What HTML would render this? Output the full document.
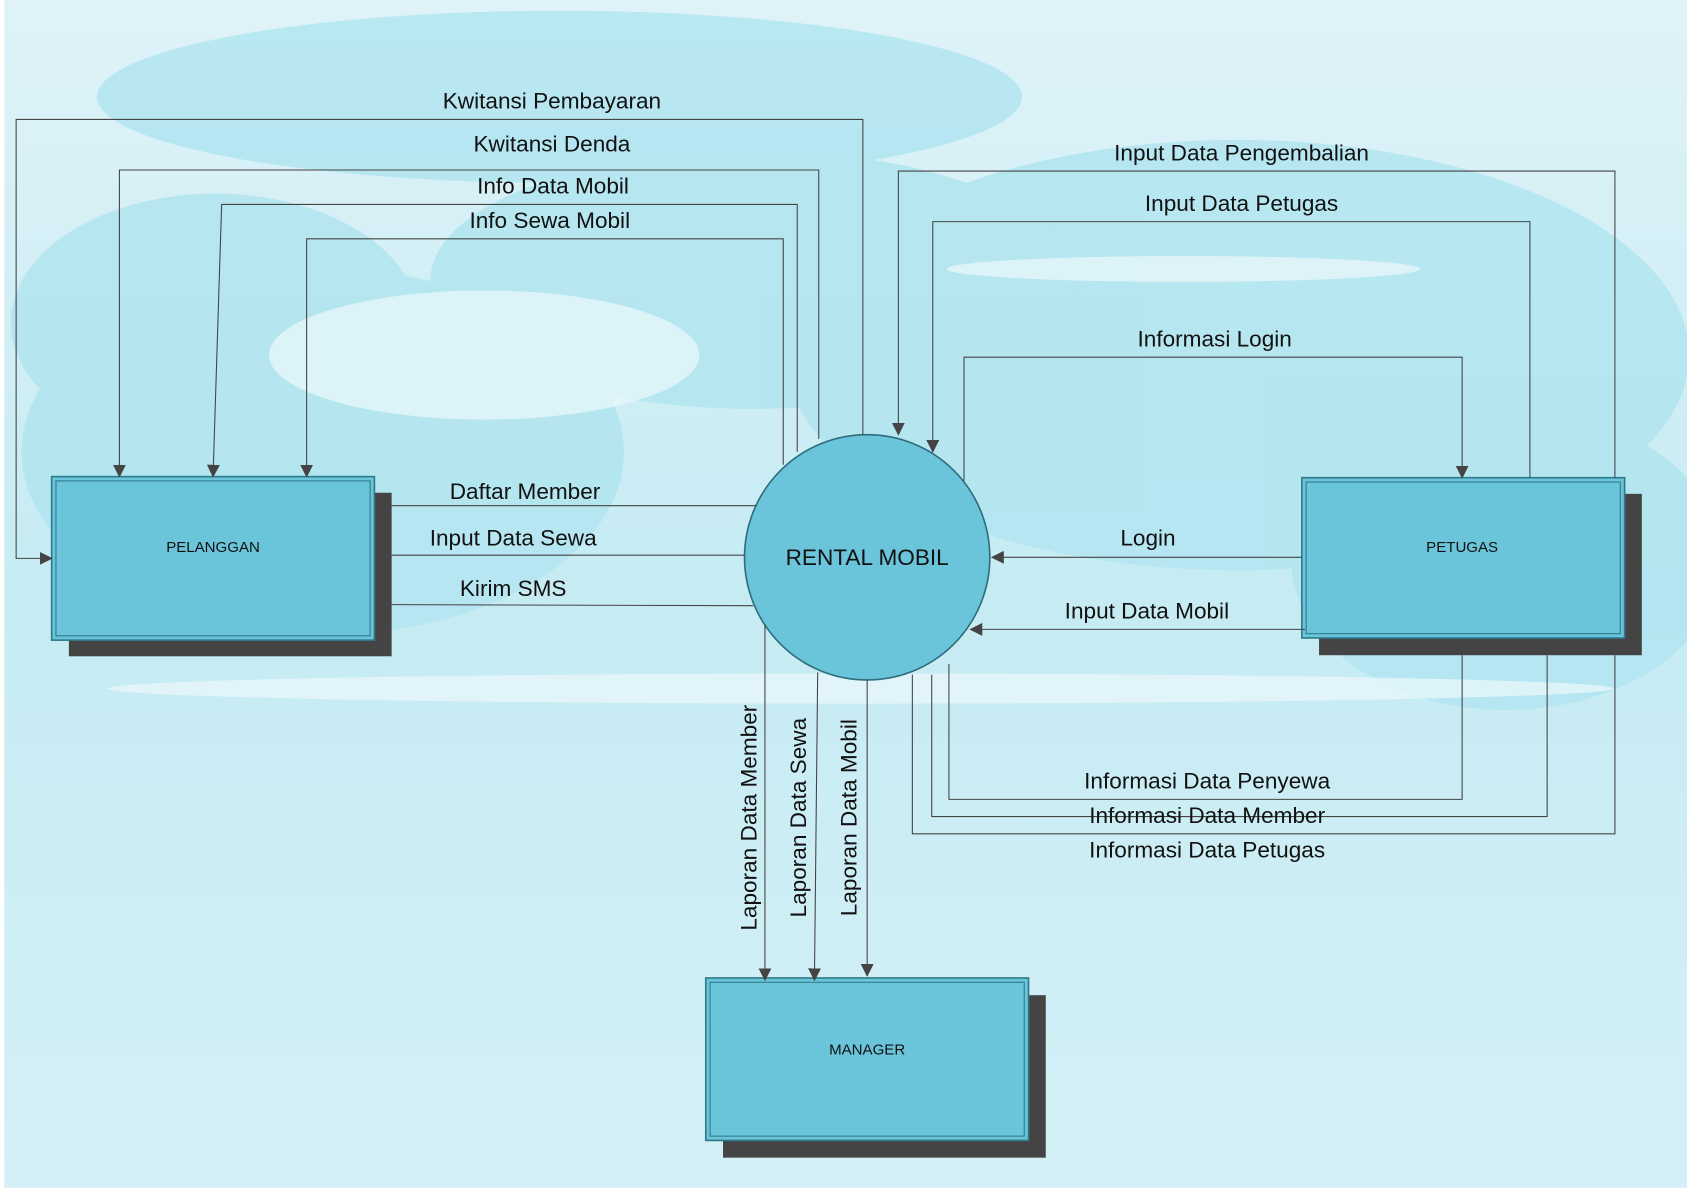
<!DOCTYPE html>
<html><head><meta charset="utf-8"><style>html,body{margin:0;padding:0;background:#fff}svg{display:block}</style></head>
<body>
<svg width="1687" height="1191" viewBox="0 0 1568 1107" preserveAspectRatio="none" xmlns="http://www.w3.org/2000/svg" font-family="Liberation Sans, sans-serif">
<defs>
<linearGradient id="bg" x1="0" y1="0" x2="0" y2="1">
<stop offset="0" stop-color="#dff3f8"/><stop offset="0.5" stop-color="#c6ebf3"/><stop offset="1" stop-color="#d4f0f6"/></linearGradient>
<marker id="a" markerWidth="12" markerHeight="12" refX="11" refY="6" orient="auto" markerUnits="userSpaceOnUse"><path d="M0,0 L12,6 L0,12 z" fill="#444"/></marker>
</defs>
<rect x="0" y="0" width="1568" height="1107" fill="#fff"/>
<rect x="4" y="0" width="1564" height="1104" fill="url(#bg)"/>
<g fill="#b1e5f0" opacity="0.85">
<ellipse cx="520" cy="90" rx="430" ry="80"/>
<ellipse cx="300" cy="420" rx="280" ry="170"/>
<ellipse cx="1150" cy="330" rx="420" ry="200"/>
<ellipse cx="700" cy="260" rx="300" ry="120"/>
<ellipse cx="1400" cy="520" rx="200" ry="140"/>
<ellipse cx="200" cy="300" rx="190" ry="120"/>
</g>
<g fill="#e6f6fa" opacity="0.8">
<ellipse cx="450" cy="330" rx="200" ry="60"/>
<ellipse cx="800" cy="640" rx="700" ry="14"/>
<ellipse cx="1100" cy="250" rx="220" ry="12"/>
</g>
<!-- boxes -->
<rect x="64" y="458" width="300" height="152" fill="#444"/>
<rect x="48" y="443" width="300" height="152" fill="#6ac4da" stroke="#2f7a8a" stroke-width="1.5"/>
<rect x="52" y="447" width="292" height="144" fill="none" stroke="#2f7a8a" stroke-width="1"/>
<text x="198" y="513" font-size="14" text-anchor="middle" fill="#111">PELANGGAN</text>
<rect x="1226" y="459" width="300" height="150" fill="#444"/>
<rect x="1210" y="444" width="300" height="149" fill="#6ac4da" stroke="#2f7a8a" stroke-width="1.5"/>
<rect x="1214" y="448" width="292" height="141" fill="none" stroke="#2f7a8a" stroke-width="1"/>
<text x="1359" y="513" font-size="14" text-anchor="middle" fill="#111">PETUGAS</text>
<rect x="672" y="925" width="300" height="151" fill="#444"/>
<rect x="656" y="909" width="300" height="151" fill="#6ac4da" stroke="#2f7a8a" stroke-width="1.5"/>
<rect x="660" y="913" width="292" height="143" fill="none" stroke="#2f7a8a" stroke-width="1"/>
<text x="806" y="980" font-size="14" text-anchor="middle" fill="#111">MANAGER</text>
<circle cx="806" cy="518" r="114" fill="#6ac4da" stroke="#2f6d7d" stroke-width="1.5"/>
<text x="806" y="525" font-size="21" text-anchor="middle" fill="#111">RENTAL MOBIL</text>
<!-- connectors -->
<g fill="none" stroke="#444" stroke-width="1">
<polyline points="802,404 802,111 15,111 15,519 48,519" marker-end="url(#a)"/>
<polyline points="761,408 761,158 111,158 111,443" marker-end="url(#a)"/>
<polyline points="741,420 741,190 206,190 198,443" marker-end="url(#a)"/>
<polyline points="728,432 728,222 285,222 285,443" marker-end="url(#a)"/>
<line x1="364" y1="470" x2="703" y2="470"/>
<line x1="364" y1="516" x2="692" y2="516"/>
<line x1="364" y1="562" x2="700" y2="563"/>
<polyline points="1501,444 1501,159 835,159 835,404" marker-end="url(#a)"/>
<polyline points="1422,444 1422,206 867,206 867,420" marker-end="url(#a)"/>
<polyline points="896,447 896,332 1359,332 1359,444" marker-end="url(#a)"/>
<line x1="1210" y1="518" x2="922" y2="518" marker-end="url(#a)"/>
<line x1="1213" y1="585" x2="902" y2="585" marker-end="url(#a)"/>
<polyline points="882,617 882,743 1359,743 1359,609"/>
<polyline points="866,627 866,759 1438,759 1438,609"/>
<polyline points="848,627 848,775 1501,775 1501,609"/>
<line x1="711" y1="580" x2="711" y2="911" marker-end="url(#a)"/>
<line x1="760" y1="625" x2="757" y2="911" marker-end="url(#a)"/>
<line x1="806" y1="632" x2="806" y2="907" marker-end="url(#a)"/>
</g>
<g font-size="21" fill="#111" text-anchor="middle">
<text x="513" y="101">Kwitansi Pembayaran</text>
<text x="513" y="141">Kwitansi Denda</text>
<text x="514" y="180">Info Data Mobil</text>
<text x="511" y="212">Info Sewa Mobil</text>
<text x="488" y="464">Daftar Member</text>
<text x="477" y="507">Input Data Sewa</text>
<text x="477" y="554">Kirim SMS</text>
<text x="1154" y="149">Input Data Pengembalian</text>
<text x="1154" y="196">Input Data Petugas</text>
<text x="1129" y="322">Informasi Login</text>
<text x="1067" y="507">Login</text>
<text x="1066" y="575">Input Data Mobil</text>
<text x="1122" y="733">Informasi Data Penyewa</text>
<text x="1122" y="765">Informasi Data Member</text>
<text x="1122" y="797">Informasi Data Petugas</text>
<text transform="translate(703,760) rotate(-90)">Laporan Data Member</text>
<text transform="translate(749,760) rotate(-90)">Laporan Data Sewa</text>
<text transform="translate(796,760) rotate(-90)">Laporan Data Mobil</text>
</g>
</svg>
</body></html>
